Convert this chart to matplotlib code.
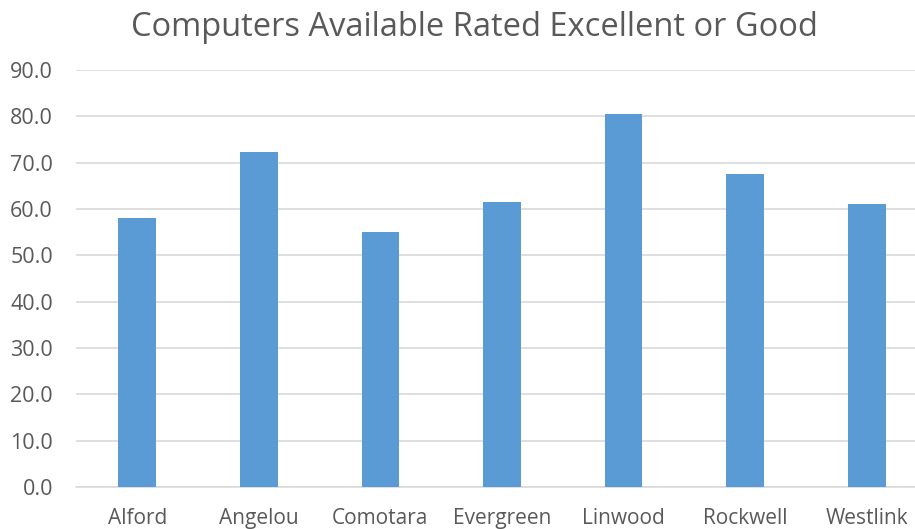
import matplotlib
matplotlib.use("Agg")
import matplotlib.pyplot as plt
import numpy as np

schools = ["Alford", "Angelou", "Comotara", "Evergreen", "Linwood", "Rockwell", "Westlink"]
pct_excellent_good = [58.0, 72.4, 55.0, 61.5, 80.6, 67.5, 61.1]
y_ticks = [0, 10, 20, 30, 40, 50, 60, 70, 80, 90]

plt.rcParams["font.family"] = ["Open Sans", "DejaVu Sans"]
text_gray = "#595959"

fig = plt.figure(figsize=(9.15, 5.29), dpi=100)
ax = fig.add_axes([0.0836, 0.0794, 0.930, 0.788])

x = np.arange(len(schools))
ax.bar(x, pct_excellent_good, width=0.31, color="#5b9bd5", zorder=3)

ax.set_xlim(-0.5, len(schools) - 0.5)
ax.set_ylim(0, 90)
ax.set_yticks(y_ticks)
ax.set_yticklabels([f"{v:.1f}" for v in y_ticks])
ax.set_xticks(x)
ax.set_xticklabels(schools)

ax.grid(axis="y", color="#d9d9d9", linewidth=1.2, zorder=0)
for s in ["top", "right", "left"]:
    ax.spines[s].set_visible(False)
ax.spines["bottom"].set_color("#d9d9d9")
ax.spines["bottom"].set_linewidth(1.2)
ax.tick_params(axis="both", length=0, colors=text_gray)
ax.tick_params(axis="y", pad=17, labelsize=15.5)
ax.tick_params(axis="x", pad=15, labelsize=15)

fig.text(0.518, 0.932, "Computers Available Rated Excellent or Good",
         ha="center", va="baseline", fontsize=23.5, color=text_gray)

fig.savefig("out.png", dpi=100)
